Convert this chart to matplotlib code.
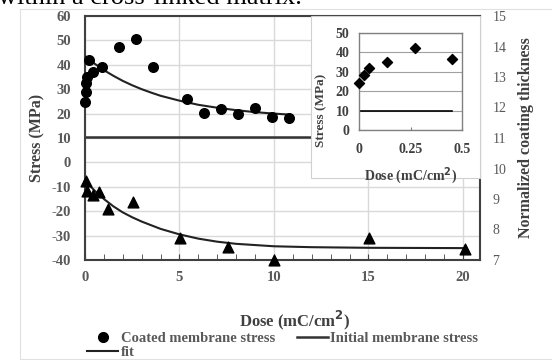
import matplotlib.pyplot as plt
from matplotlib.patches import Rectangle
from matplotlib.lines import Line2D
from matplotlib.ticker import MultipleLocator

plt.rcParams["font.family"] = ["Liberation Serif", "DejaVu Serif"]
plt.rcParams["axes.unicode_minus"] = False

# coated membrane stress (MPa) vs dose (mC/cm2)
stress_dose = [0.0, 0.05, 0.05, 0.12, 0.23, 0.44, 0.9, 1.8, 2.68, 3.58,
               5.38, 6.3, 7.18, 8.08, 8.97, 9.87, 10.77]
stress_vals = [24.9, 29.0, 32.7, 35.1, 42.0, 37.2, 39.2, 47.4, 50.6, 39.2,
               25.9, 20.1, 21.8, 19.7, 22.4, 18.7, 18.1]

# fit through stress points
stress_fit_x = [0.05, 0.5, 1, 1.5, 2, 2.5, 3, 3.5, 4, 5, 6, 7, 8, 9, 10, 10.8]
stress_fit_y = [43.3, 40.5, 37.8, 35.5, 33.4, 31.6, 30.0, 28.6, 27.3, 25.3,
                23.6, 22.4, 21.4, 20.6, 20.0, 19.6]

# initial membrane stress
initial_stress = 10.5

# normalized coating thickness vs dose
thick_dose = [0.03, 0.12, 0.4, 0.74, 1.23, 2.52, 5.03, 7.55, 10.0, 15.04, 20.1]
thick_vals = [9.6, 9.27, 9.13, 9.22, 8.67, 8.89, 7.71, 7.42, 7.0, 7.71, 7.36]

thick_fit_x = [0, 0.5, 1, 1.5, 2, 2.5, 3, 4, 5, 6, 7, 8, 10, 12, 15, 20]
thick_fit_y = [9.6, 9.28, 9.0, 8.76, 8.56, 8.4, 8.26, 8.02, 7.84, 7.7,
               7.6, 7.53, 7.45, 7.42, 7.4, 7.39]

# inset: low dose region
inset_dose = [0.0, 0.024, 0.049, 0.134, 0.272, 0.45]
inset_stress = [24.4, 28.4, 32.1, 34.9, 42.1, 36.8]
inset_line_x = [0.0, 0.45]

dark = "#404040"
gray = "#595959"
grid = "#d9d9d9"

fig = plt.figure(figsize=(5.52, 3.6), dpi=100)

# chart area border
fig.patches.append(Rectangle((20 / 552, 1 / 360), 540 / 552, 350 / 360,
                             transform=fig.transFigure, fill=False,
                             edgecolor="#e0e0e0", lw=0.8))
# clipped caption from the page
fig.text(-0.003, 1 - 4 / 360, "within a cross-linked matrix.", fontsize=19,
         va="baseline", ha="left", color="black")

ax = fig.add_axes([85 / 552, 1 - 260 / 360, 395 / 552, 244 / 360])
ax.set_xlim(0, 20.9)
ax.set_ylim(-40, 60)
ax.yaxis.set_major_locator(MultipleLocator(10))
ax.xaxis.set_major_locator(MultipleLocator(5))
ax.xaxis.set_minor_locator(MultipleLocator(1))
ax.grid(True, color=grid, lw=1.0)
ax.set_axisbelow(True)
for s in ax.spines.values():
    s.set_color(dark)
    s.set_linewidth(1.5)
ax.tick_params(axis="x", which="both", direction="in", length=4,
               color=dark, pad=8, labelsize=10.5, labelcolor=gray)
ax.tick_params(axis="y", length=0, pad=10, labelsize=10.5, labelcolor=gray)
for lab in ax.get_xticklabels() + ax.get_yticklabels():
    lab.set_fontweight("bold")

ax.axhline(initial_stress, color="#333333", lw=1.8, zorder=2)
ax.plot(stress_fit_x, stress_fit_y, color="#222222", lw=1.5, zorder=3)
ax.scatter(stress_dose, stress_vals, s=48, color="black", zorder=4,
           clip_on=False)

ax.set_ylabel("Stress (MPa)", fontsize=11.5, fontweight="bold", color=dark)
ax.yaxis.set_label_coords(-0.101, 0.5)
ax.set_xlabel("Dose (mC/cm$^{\\mathbf{2}}$)", fontsize=12, fontweight="bold",
              color=dark)
ax.xaxis.set_label_coords(0.53, -0.2)

ax2 = ax.twinx()
ax2.set_ylim(7, 15)
ax2.yaxis.set_major_locator(MultipleLocator(1))
ax2.tick_params(axis="y", length=0, pad=9, labelsize=10, labelcolor=gray)
for s in ax2.spines.values():
    s.set_visible(False)
ax2.plot(thick_fit_x, thick_fit_y, color="#222222", lw=1.5, zorder=3,
         clip_on=False)
ax2.scatter(thick_dose, thick_vals, s=60, marker="^", color="black", zorder=4,
            clip_on=False)
ax2.set_ylabel("Normalized coating thickness", fontsize=11.5,
               fontweight="bold", color=dark)
ax2.yaxis.set_label_coords(1.097, 0.5)

# legend
handles = [
    Line2D([], [], marker="o", color="black", ls="none", markersize=7),
    Line2D([], [], color="#222222", lw=1.5),
    Line2D([], [], color="#333333", lw=1.8),
]
labels = ["Coated membrane stress", "fit", "Initial membrane stress"]
leg = fig.legend(handles, labels, ncol=2, loc="upper left",
                 bbox_to_anchor=(80 / 552, 1 - 325 / 360), frameon=False,
                 fontsize=10.5, handlelength=2.1, handletextpad=0.2,
                 columnspacing=1.5, labelspacing=0.05, borderpad=0)
for t in leg.get_texts():
    t.set_fontweight("bold")
    t.set_color(gray)

# inset background box
fig.patches.append(Rectangle((311 / 552, 1 - 178 / 360), 169 / 552, 162 / 360,
                             transform=fig.transFigure, facecolor="white",
                             edgecolor="#d0d0d0", lw=0.8, zorder=5))

axi = fig.add_axes([359 / 552, 1 - 130 / 360, 103 / 552, 97 / 360], zorder=6)
axi.set_xlim(0, 0.5)
axi.set_ylim(0, 50)
axi.set_xticks([0, 0.25, 0.5])
axi.set_xticklabels(["0", "0.25", "0.5"])
axi.yaxis.set_major_locator(MultipleLocator(10))
axi.grid(True, axis="y", color="#a0a0a0", lw=0.8)
axi.set_axisbelow(True)
for s in axi.spines.values():
    s.set_color("#808080")
    s.set_linewidth(1.0)
axi.tick_params(axis="x", direction="in", length=2, color="#808080", pad=9,
                labelsize=10, labelcolor=dark)
axi.tick_params(axis="y", length=0, pad=7, labelsize=10, labelcolor=dark)
for lab in axi.get_xticklabels() + axi.get_yticklabels():
    lab.set_fontweight("bold")
axi.plot(inset_line_x, [10, 10], color="black", lw=1.2)
axi.scatter(inset_dose, inset_stress, s=26, marker="D", color="black",
            zorder=4, clip_on=False)
axi.set_ylabel("Stress (MPa)", fontsize=9.5, fontweight="bold", color=dark)
axi.yaxis.set_label_coords(-0.31, 0.2)
axi.set_xlabel("Dose (mC/cm$^{\\mathbf{2}}$)", fontsize=10, fontweight="bold",
               color=dark)
axi.xaxis.set_label_coords(0.5, -0.36)

fig.savefig("out.png", dpi=100)
